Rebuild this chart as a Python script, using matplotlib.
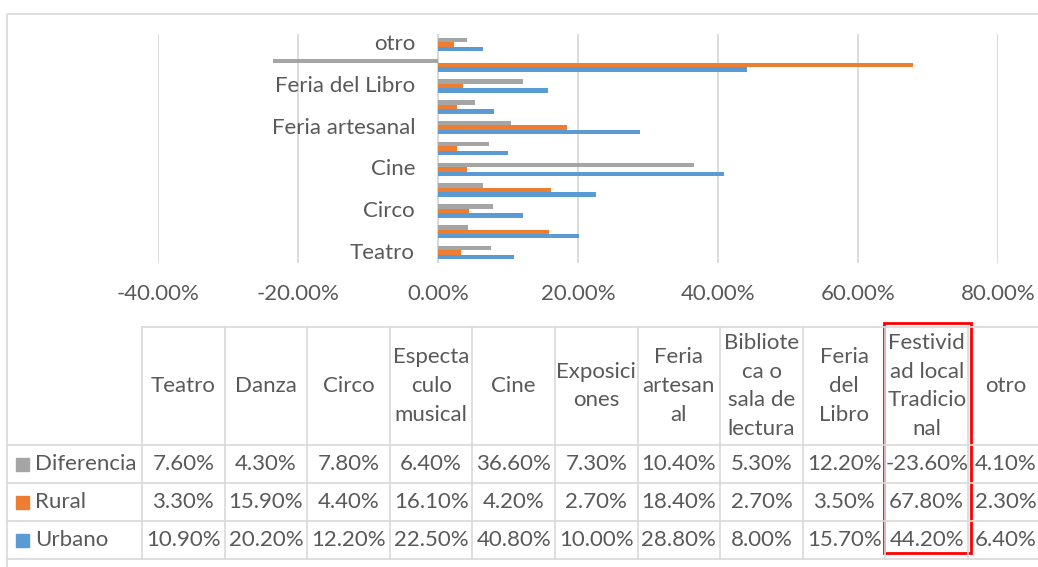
import numpy as np
import matplotlib
matplotlib.use('Agg')
import matplotlib.pyplot as plt
from matplotlib.patches import Rectangle

plt.rcParams['font.family'] = ['Lato', 'DejaVu Sans']

categories = ['Teatro', 'Danza', 'Circo', 'Espectaculo musical', 'Cine',
              'Exposiciones', 'Feria artesanal', 'Biblioteca o sala de lectura',
              'Feria del Libro', 'Festividad local Tradicional', 'otro']
header_lines = ['Teatro', 'Danza', 'Circo', 'Especta\nculo\nmusical', 'Cine',
                'Exposici\nones', 'Feria\nartesan\nal', 'Bibliote\nca o\nsala de\nlectura',
                'Feria\ndel\nLibro', 'Festivid\nad local\nTradicio\nnal', 'otro']
diferencia = [7.6, 4.3, 7.8, 6.4, 36.6, 7.3, 10.4, 5.3, 12.2, -23.6, 4.1]
rural = [3.3, 15.9, 4.4, 16.1, 4.2, 2.7, 18.4, 2.7, 3.5, 67.8, 2.3]
urbano = [10.9, 20.2, 12.2, 22.5, 40.8, 10.0, 28.8, 8.0, 15.7, 44.2, 6.4]
series_names = ['Diferencia', 'Rural', 'Urbano']
series_vals = [diferencia, rural, urbano]
colors = ['#A5A5A5', '#ED7D31', '#5B9BD5']
txt = '#595959'
grid = '#D9D9D9'
fs = 16

W, H = 1038, 567
fig = plt.figure(figsize=(W/100, H/100), dpi=100)

# overlay in pixel coords for border + data table
ov = fig.add_axes([0, 0, 1, 1])
ov.set_xlim(0, W)
ov.set_ylim(H, 0)
ov.axis('off')

# chart area border
ov.plot([7, 7, W], [H, 14, 14], color=grid, lw=1.2)

# bar chart
ax = fig.add_axes([158/W, 1-263/H, (998-158)/W, (263-34)/H])
ax.set_facecolor('none')
y = np.arange(len(categories))
bh = 0.215
offs = [bh, 0, -bh]
for vals, c, o in zip(series_vals, colors, offs):
    ax.barh(y + o, np.array(vals)/100, height=bh, color=c, edgecolor='none', zorder=3)
ax.set_xlim(-0.4, 0.8)
ax.set_ylim(-0.5, len(categories)-0.5)
ax.set_xticks(np.arange(-0.4, 0.81, 0.2))
ax.grid(axis='x', color=grid, lw=1.3, zorder=0)
ax.set_axisbelow(True)
ax.tick_params(length=0, colors=txt, labelsize=fs, pad=15)
ax.set_xticklabels(['%.2f%%' % (v*100) for v in np.arange(-0.4, 0.81, 0.2)])
ax.set_yticks([])
for s in ax.spines.values():
    s.set_visible(False)
ax.axvline(0, color=grid, lw=1.3, zorder=1)
for i, cat in enumerate(categories):
    if i % 2 == 0:
        ax.annotate(cat, xy=(0, i), xytext=(-23*0.72, 0), textcoords='offset points',
                    ha='right', va='center', color=txt, fontsize=fs)

# data table
col0 = 142
cw = 82.6
top, hdr_bot, rh = 327, 445, 38
ncol = len(categories)
row_y = [hdr_bot + rh*k for k in range(4)]
for k in range(ncol + 1):
    x = col0 + cw*k
    ov.plot([x, x], [top, row_y[-1]], color=grid, lw=1.2)
ov.plot([col0, W], [top, top], color=grid, lw=1.2)
for yy in row_y:
    ov.plot([7, W], [yy, yy], color=grid, lw=1.2)

def col_center(k):
    # last column runs past the picture edge; keep its text inside
    return min(col0 + cw*(k + 0.5), W - 32)

lh = 28.7
hc = (top + hdr_bot) / 2
for k, lab in enumerate(header_lines):
    xc = col_center(k)
    lines = lab.split('\n')
    n = len(lines)
    for j, ln in enumerate(lines):
        ov.text(xc, hc + (j - (n-1)/2)*lh, ln, ha='center', va='center',
                color=txt, fontsize=fs)

for r, (name, vals, c) in enumerate(zip(series_names, series_vals, colors)):
    yc = row_y[r] + rh/2
    ov.add_patch(Rectangle((16, yc-6.5), 13, 13, color=c))
    ov.text(35, yc, name, ha='left', va='center', color=txt, fontsize=fs)
    for k, v in enumerate(vals):
        ov.text(col_center(k), yc, '%.2f%%' % v, ha='center', va='center',
                color=txt, fontsize=fs)

# highlight box
ov.add_patch(Rectangle((884, 323), 87, 230, fill=False, edgecolor='#FF0000', lw=2))

fig.savefig('out.png', dpi=100)
